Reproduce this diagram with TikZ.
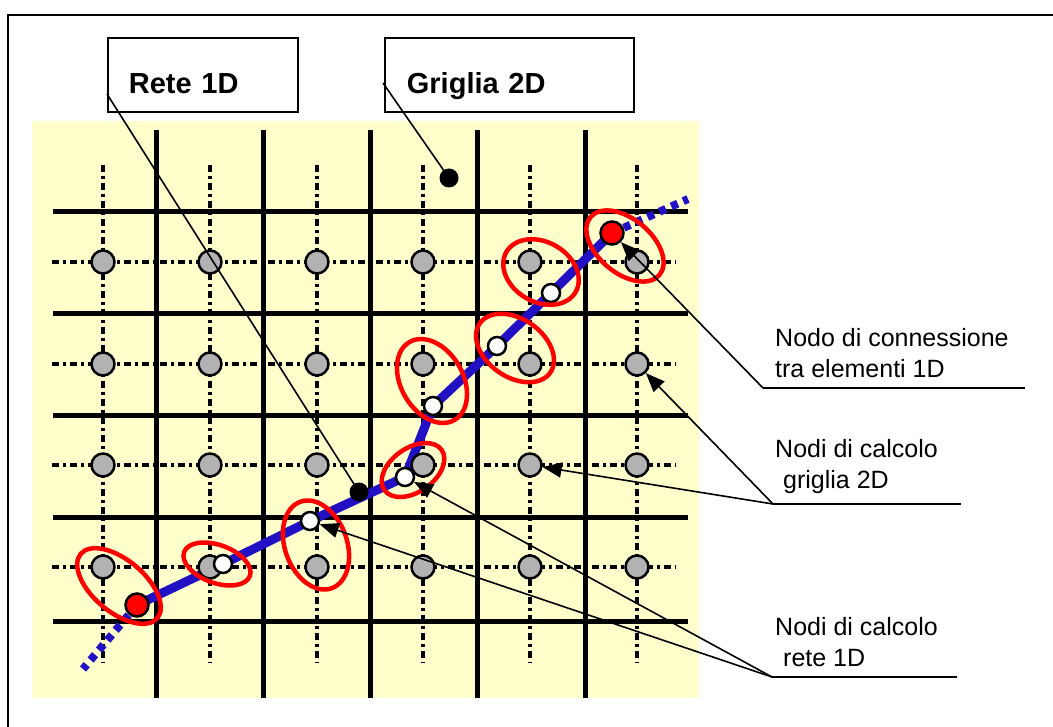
\documentclass[tikz,border=0pt]{standalone}
\usepackage{fontspec}
\setmainfont{Liberation Sans}
\usetikzlibrary{arrows.meta,shapes.geometric}

\definecolor{bgyellow}{RGB}{255,255,204}
\definecolor{netblue}{RGB}{34,17,196}
\definecolor{nodegray}{RGB}{178,178,178}

\begin{document}
\begin{tikzpicture}[
    x=1pt,y=-1pt,
    every node/.style={font=\fontsize{25}{31}\selectfont,align=left},
    wall/.style={line width=5pt},
    gridaxis/.style={line width=4pt,dash pattern=on 7pt off 4pt on 3pt off 4pt},
    net/.style={netblue,line width=9pt,line join=round},
    netdash/.style={netblue,line width=8pt,dash pattern=on 7pt off 6pt},
    gnode/.style={circle,draw,line width=2.5pt,fill=nodegray,minimum size=23pt,inner sep=0pt},
    wnode/.style={circle,draw,line width=2.5pt,fill=white,minimum size=18pt,inner sep=0pt},
    rnode/.style={circle,draw,line width=2.5pt,fill=red,minimum size=23pt,inner sep=0pt},
    blackdot/.style={circle,fill=black,minimum size=19pt,inner sep=0pt},
    ring/.style={ellipse,draw=red,line width=4.5pt,inner sep=0pt},
    tagbox/.style={draw,line width=1.8pt,anchor=north west,inner ysep=0pt,minimum height=74pt,
        text height=38pt,text depth=0pt,font=\fontsize{29}{34}\selectfont\bfseries},
    notetext/.style={anchor=north west,inner sep=0pt},
    lead/.style={line width=1.6pt},
    arrow/.style={lead,-{Triangle[length=19pt,width=15pt]}}
]
\useasboundingbox (0,0) rectangle (1053,727);
\draw[line width=1.8pt] (8,727) -- (8,15) -- (1053,15);

% griglia 2D
\fill[bgyellow] (32,121) rectangle (699,698);
\foreach \x in {156,263,370,477,585}
    \draw[wall] (\x,130) -- (\x,698);
\foreach \y in {212,314,416,517,621}
    \draw[wall] (53,\y) -- (688,\y);
\foreach \x in {103,210,317,423,530,637}
    \draw[gridaxis] (\x,165) -- (\x,663);
\foreach \y in {262,364,465,567}
    \draw[gridaxis] (52,\y) -- (676,\y);

% rete 1D
\coordinate (n0) at (83,669);
\coordinate (n1) at (137,605);
\coordinate (n2) at (223,564);
\coordinate (n3) at (310,521);
\coordinate (n4) at (405,477);
\coordinate (n5) at (433,406);
\coordinate (n6) at (497,346);
\coordinate (n7) at (551,293);
\coordinate (n8) at (612,233);
\coordinate (n9) at (688,199);
\draw[netdash] (n1) -- (n0);
\draw[net] (n1) -- (n2) -- (n3) -- (n4) -- (n5) -- (n6) -- (n7) -- (n8);
\draw[netdash] (n8) -- (n9);

% nodi di calcolo
\foreach \c/\x in {1/103,2/210,3/317,4/423,5/530,6/637}
    \foreach \r/\y in {1/262,2/364,3/465,4/567}
        \node[gnode] (g\c\r) at (\x,\y) {};
\node[rnode] (r1) at (n1) {};
\node[wnode] (w1) at (n2) {};
\node[wnode] (w2) at (n3) {};
\node[wnode] (w3) at (n4) {};
\node[wnode] (w4) at (n5) {};
\node[wnode] (w5) at (n6) {};
\node[wnode] (w6) at (n7) {};
\node[rnode] (r2) at (n8) {};
\node[blackdot] (dnet) at (359,492) {};
\node[blackdot] (dgrid) at (449,178) {};

% accoppiamenti
\node[ring,minimum width=100pt,minimum height=52pt,rotate=-40] (e1) at (119,586) {};
\node[ring,minimum width=70pt,minimum height=38pt,rotate=-20] (e2) at (217,564) {};
\node[ring,minimum width=92pt,minimum height=62pt,rotate=-70] (e3) at (316,545) {};
\node[ring,minimum width=70pt,minimum height=44pt,rotate=35] (e4) at (413,470) {};
\node[ring,minimum width=90pt,minimum height=62pt,rotate=-60] (e5) at (432,381) {};
\node[ring,minimum width=86pt,minimum height=58pt,rotate=-35] (e6) at (515,348) {};
\node[ring,minimum width=80pt,minimum height=60pt,rotate=-30] (e7) at (541,272) {};
\node[ring,minimum width=90pt,minimum height=54pt,rotate=-40] (e8) at (625,246) {};

% etichette
\node[tagbox,text width=148pt,inner xsep=21pt] (retebox) at (107,37) {Rete 1D};
\node[tagbox,text width=205pt,inner xsep=22pt] (grigliabox) at (384,37) {Griglia 2D};
\coordinate (retefoot) at (107,94);
\coordinate (grigliafoot) at (383,83);
\draw[lead] (retefoot) -- (dnet.center);
\draw[lead] (grigliafoot) -- (dgrid.center);

\node[notetext] (conntxt) at (775,328) {Nodo di connessione\\tra elementi 1D};
\node[notetext] (gridtxt) at (775,439) {Nodi di calcolo\\\hspace{8pt}griglia 2D};
\node[notetext] (nettxt) at (775,617) {Nodi di calcolo\\\hspace{8pt}rete 1D};
\coordinate (connfoot) at (763,388);
\coordinate (connend) at (1025,388);
\coordinate (gridfoot) at (773,504);
\coordinate (gridend) at (961,504);
\coordinate (netfoot) at (772,677);
\coordinate (netend) at (957,677);
\draw[lead] (connfoot) -- (connend);
\draw[lead] (gridfoot) -- (gridend);
\draw[lead] (netfoot) -- (netend);
\draw[arrow] (connfoot) -- (r2);
\draw[arrow] (gridfoot) -- (g62);
\draw[arrow] (gridfoot) -- (g53);
\draw[arrow] (netfoot) -- (w2);
\draw[arrow] (netfoot) -- (w3);
\end{tikzpicture}
\end{document}
